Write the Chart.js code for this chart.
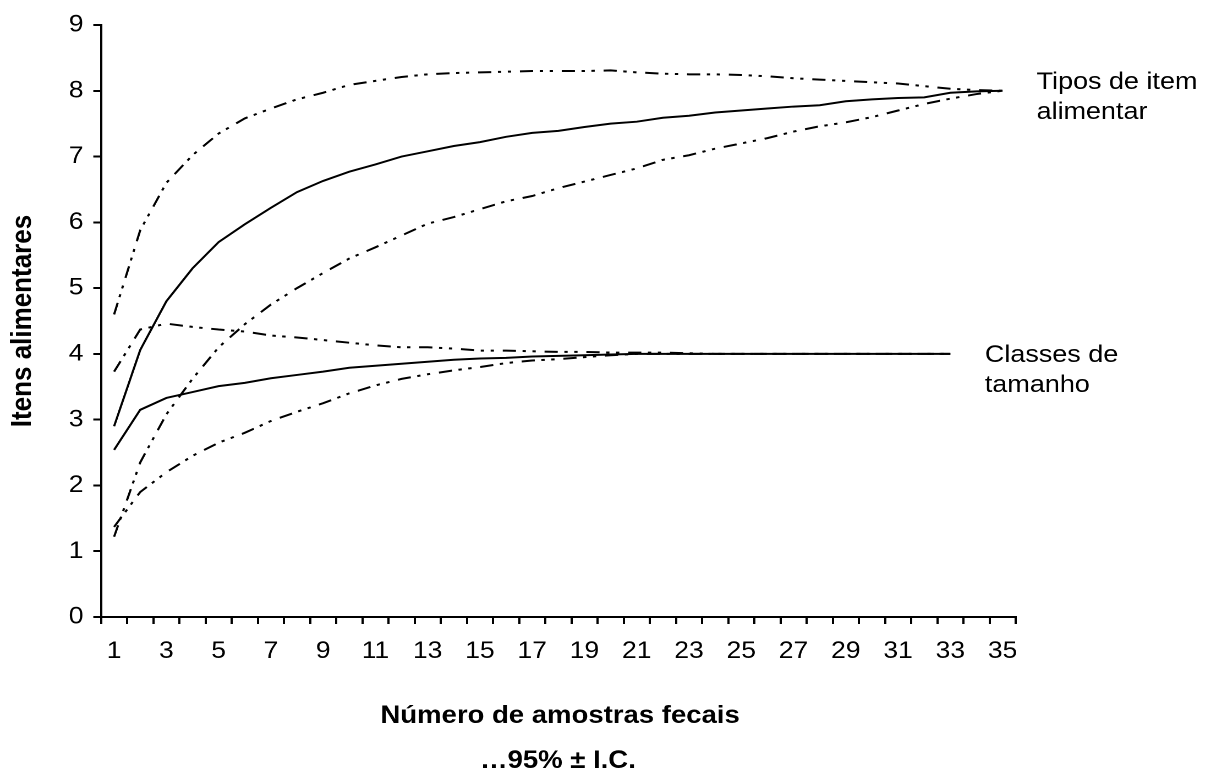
<!DOCTYPE html>
<html>
<head>
<meta charset="utf-8">
<title>Curva de acumulação de itens alimentares</title>
<script src="https://cdn.jsdelivr.net/npm/chart.js@4"></script>
<style>
  html, body { margin: 0; padding: 0; background: #fff; overflow: hidden; }
  /* the original figure is a bit wider than tall in its glyphs, so stretch horizontally */
  #wrap { width: 1106px; height: 778px; transform: scaleX(1.1004); transform-origin: 0 0; }
</style>
</head>
<body>
<div id="wrap"><canvas id="curveChart"></canvas></div>
<script>
const FONT = '"Liberation Sans", Arial, sans-serif';

const labels = [1, 2, 3, 4, 5, 6, 7, 8, 9, 10, 11, 12, 13, 14, 15, 16, 17, 18,
  19, 20, 21, 22, 23, 24, 25, 26, 27, 28, 29, 30, 31, 32, 33, 34, 35];

// Tipos de item alimentar
const tiposMean = [2.90, 4.06, 4.80, 5.30, 5.70, 5.97, 6.22, 6.46, 6.63, 6.77, 6.88, 7.00,
  7.08, 7.16, 7.22, 7.30, 7.36, 7.39, 7.45, 7.50, 7.53, 7.59, 7.62, 7.67, 7.70, 7.73,
  7.76, 7.78, 7.84, 7.87, 7.89, 7.90, 7.97, 7.99, 8.00];
const tiposUpper = [4.60, 5.88, 6.60, 7.02, 7.35, 7.58, 7.73, 7.87, 7.97, 8.09, 8.15, 8.21,
  8.25, 8.27, 8.28, 8.29, 8.30, 8.30, 8.30, 8.31, 8.28, 8.26, 8.25, 8.25, 8.24, 8.22,
  8.19, 8.17, 8.15, 8.13, 8.11, 8.07, 8.03, 8.01, 8.00];
const tiposLower = [1.22, 2.35, 3.08, 3.62, 4.10, 4.45, 4.75, 5.00, 5.23, 5.45, 5.62, 5.80,
  5.98, 6.08, 6.20, 6.32, 6.40, 6.52, 6.62, 6.72, 6.82, 6.95, 7.02, 7.12, 7.20, 7.28,
  7.38, 7.46, 7.52, 7.60, 7.70, 7.80, 7.88, 7.95, 8.00];

// Classes de tamanho (only up to 33 samples)
const classesMean = [2.54, 3.15, 3.33, 3.42, 3.51, 3.56, 3.63, 3.68, 3.73, 3.79, 3.82, 3.85,
  3.88, 3.91, 3.93, 3.94, 3.96, 3.97, 3.98, 3.99, 4.00, 4.00, 4.00, 4.00, 4.00, 4.00,
  4.00, 4.00, 4.00, 4.00, 4.00, 4.00, 4.00, null, null];
const classesUpper = [3.73, 4.37, 4.46, 4.41, 4.37, 4.34, 4.28, 4.25, 4.21, 4.17, 4.13, 4.10,
  4.10, 4.08, 4.05, 4.05, 4.04, 4.03, 4.03, 4.02, 4.02, 4.02, 4.01, 4.00, 4.00, 4.00,
  4.00, 4.00, 4.00, 4.00, 4.00, 4.00, 4.00, null, null];
const classesLower = [1.37, 1.90, 2.20, 2.45, 2.65, 2.80, 2.98, 3.12, 3.25, 3.40, 3.52, 3.62,
  3.69, 3.75, 3.80, 3.86, 3.90, 3.92, 3.95, 3.98, 4.00, 4.00, 4.00, 4.00, 4.00, 4.00,
  4.00, 4.00, 4.00, 4.00, 4.00, 4.00, 4.00, null, null];

const yTicks = [0, 1, 2, 3, 4, 5, 6, 7, 8, 9];

const DASH_DOT_DOT = [12, 6, 3, 6, 3, 8];

function line(data, dashed) {
  return {
    data,
    borderColor: "#000",
    borderWidth: 2,
    borderDash: dashed ? DASH_DOT_DOT : [],
    pointRadius: 0,
    tension: 0,
    fill: false,
    spanGaps: false
  };
}

// free text: axis titles and the two curve names
const textPlugin = {
  id: "texts",
  afterDraw(chart) {
    const c = chart.ctx;
    c.save();
    c.fillStyle = "#000";
    c.textAlign = "center";
    c.textBaseline = "alphabetic";
    c.font = "bold 25px " + FONT;
    c.fillText("Número de amostras fecais", 509, 723);
    c.fillText("…95% ± I.C.", 507, 768);

    c.save();
    c.translate(21, 321);
    c.rotate(-Math.PI / 2);
    c.textBaseline = "middle";
    c.font = "bold 26px " + FONT;
    c.fillText("Itens alimentares", 0, 0);
    c.restore();

    c.textAlign = "left";
    c.font = "24.5px " + FONT;
    c.fillText("Tipos de item", 942, 89);
    c.fillText("alimentar", 942, 119);
    c.fillText("Classes de", 895, 362);
    c.fillText("tamanho", 895, 392);
    c.restore();
  }
};

document.addEventListener("DOMContentLoaded", () => {
  const ctx = document.getElementById("curveChart").getContext("2d");

  new Chart(ctx, {
    type: "line",
    data: {
      labels,
      datasets: [
        line(tiposMean, false),
        line(tiposUpper, true),
        line(tiposLower, true),
        line(classesMean, false),
        line(classesUpper, true),
        line(classesLower, true)
      ]
    },
    options: {
      responsive: true,
      maintainAspectRatio: false,
      animation: false,
      devicePixelRatio: 2,
      layout: { padding: { left: 0, right: 183, top: 25, bottom: 0 } },
      plugins: { legend: { display: false }, tooltip: { enabled: false } },
      scales: {
        x: {
          offset: true,
          grid: { offset: true, drawOnChartArea: false, drawTicks: true, tickLength: 7, color: "#000", lineWidth: 2 },
          border: { display: true, color: "#000", width: 2 },
          ticks: {
            autoSkip: false,
            maxRotation: 0,
            padding: 13,
            color: "#000",
            font: { family: FONT, size: 24 },
            callback: (v, i) => (i % 2 === 0 ? String(labels[i]) : "")
          },
          afterFit: (s) => { s.height = 161; }
        },
        y: {
          min: yTicks[0],
          max: yTicks[yTicks.length - 1],
          grid: { drawOnChartArea: false, drawTicks: true, tickLength: 7, color: "#000", lineWidth: 2 },
          border: { display: true, color: "#000", width: 2 },
          ticks: {
            stepSize: 1,
            padding: 9,
            color: "#000",
            font: { family: FONT, size: 24 }
          },
          afterFit: (s) => { s.width = 91.8; }
        }
      }
    },
    plugins: [textPlugin]
  });
});
</script>
</body>
</html>
